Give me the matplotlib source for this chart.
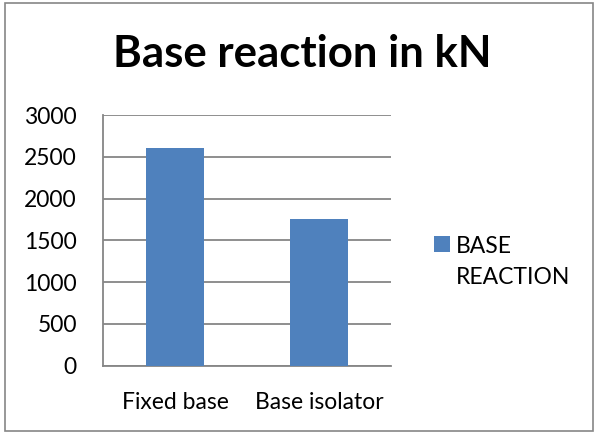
import matplotlib
matplotlib.use("Agg")
from matplotlib import pyplot as plt
from matplotlib.patches import Rectangle

categories = ["Fixed base", "Base isolator"]
base_reaction = [2610, 1760]
series_name = "BASE\nREACTION"
yticks = [0, 500, 1000, 1500, 2000, 2500, 3000]

plt.rcParams['font.family'] = ['Lato', 'DejaVu Sans']

fig = plt.figure(figsize=(5.95, 4.33), dpi=100)
ax = fig.add_axes([0.1736, 0.1554, 0.4834, 0.579])

ax.bar(range(len(categories)), base_reaction, width=0.4, color="#4f81bd",
       label=series_name, zorder=3)
ax.set_xlim(-0.5, len(categories) - 0.5)
ax.set_ylim(0, 3000)
ax.set_yticks(yticks)
ax.set_xticks(range(len(categories)))
ax.set_xticklabels(categories)
ax.tick_params(axis="both", length=0, labelsize=16.5, colors="black")
ax.tick_params(axis="y", pad=19)
ax.tick_params(axis="x", pad=19)
ax.grid(axis="y", color="#868686", lw=1.3, zorder=0)
for s in ["top", "right"]:
    ax.spines[s].set_visible(False)
for s in ["left", "bottom"]:
    ax.spines[s].set_color("#868686")
    ax.spines[s].set_linewidth(1.3)

fig.text(0.508, 1 - 67 / 433, "Base reaction in kN", ha="center", va="baseline",
         fontsize=31.5, fontweight="bold")

leg = ax.legend(loc="upper left", bbox_to_anchor=(1.11, 0.563), frameon=False,
                fontsize=16.5, handlelength=0.7, handleheight=0.68,
                handletextpad=0.25, borderpad=0)
for t in leg.get_texts():
    t.set_linespacing(1.6)
# marker next to the first line, like the original
for col in leg._legend_handle_box.get_children():
    for item in col.get_children():
        item.align = "top"

fig.patches.append(Rectangle((5 / 595, 1 - 431 / 433), 588 / 595, 428 / 433,
                             transform=fig.transFigure, fill=False,
                             edgecolor="#868686", lw=1.2))

plt.savefig("out.png", dpi=100)
